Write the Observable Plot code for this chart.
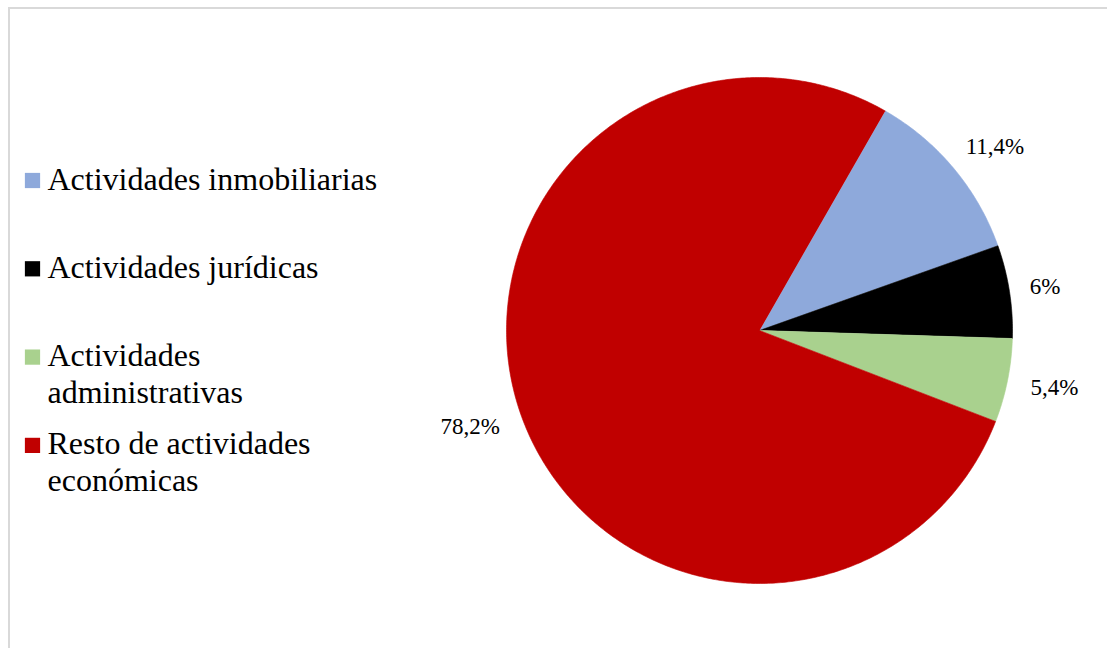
<!DOCTYPE html>
<html>
<head>
<meta charset="utf-8">
<script src="https://cdn.jsdelivr.net/npm/d3@7"></script>
<script src="https://cdn.jsdelivr.net/npm/@observablehq/plot@0.6"></script>
<style>
  html, body { margin: 0; padding: 0; background: #fff; }
  #wrap { position: relative; width: 1107px; height: 648px; overflow: hidden; }
  #frame { position: absolute; left: 8px; top: 7px; width: 1110px; height: 660px;
           border-left: 2px solid #d9d9d9; border-top: 2px solid #d9d9d9; box-sizing: border-box; }
  #chart { position: absolute; left: 0; top: 0; }
</style>
</head>
<body>
<div id="wrap"><div id="frame"></div><div id="chart"></div></div>
<script>
// Data
const categories = ["Actividades inmobiliarias", "Actividades jurídicas", "Actividades administrativas", "Resto de actividades económicas"];
const legendLabels = ["Actividades inmobiliarias", "Actividades jurídicas", "Actividades\nadministrativas", "Resto de actividades\neconómicas"];
const values = [11.4, 6, 5.4, 78.2];
const valueLabels = ["11,4%", "6%", "5,4%", "78,2%"];
const colors = ["#8EA9DB", "#000000", "#A9D18E", "#C00000"];

// Layout
const W = 1107, H = 648;
const cx = 759, cy = 330, R = 253;
const start = 29.8 * Math.PI / 180;
const serif = "Liberation Serif";

const arcs = d3.pie().sort(null).startAngle(start).endAngle(start + 2 * Math.PI)(values);

// slice outlines built from the pie angles
const slicePts = [];
arcs.forEach((a, i) => {
  slicePts.push({key: categories[i], x: cx, y: cy});
  const n = Math.max(8, Math.ceil((a.endAngle - a.startAngle) / 0.01));
  for (let k = 0; k <= n; k++) {
    const t = a.startAngle + (a.endAngle - a.startAngle) * k / n;
    slicePts.push({key: categories[i], x: cx + R * Math.sin(t), y: cy - R * Math.cos(t)});
  }
});

// data labels: box pushed outward from a point just outside the rim
const labelFs = 23;
const labels = arcs.map((a, i) => {
  const m = (a.startAngle + a.endAngle) / 2;
  const s = Math.sin(m), c = Math.cos(m);
  const hw = valueLabels[i].length * 0.26 * labelFs, hh = 0.4 * labelFs;
  const L = R + 24;
  return {text: valueLabels[i], x: cx + L * s + hw * s, y: cy - L * c - hh * c};
});

// legend
const legX = 32, legTextX = 47, legFirstBase = 190, legStep = 88.3, legFs = 32;
const legend = categories.map((c, i) => ({
  key: c, label: legendLabels[i],
  base: legFirstBase + i * legStep
}));

const plot = Plot.plot({
  width: W, height: H,
  margin: 0,
  x: {domain: [0, W], range: [0, W], axis: null},
  y: {domain: [0, H], range: [0, H], axis: null},
  color: {domain: categories, range: colors},
  style: {fontFamily: serif, background: "transparent"},
  marks: [
    Plot.line(slicePts, {x: "x", y: "y", z: "key", fill: "key", stroke: "key", strokeWidth: 0.6, curve: "linear"}),
    Plot.text(labels, {x: "x", y: "y", text: "text", fontSize: labelFs, fontFamily: serif, fill: "#000", textAnchor: "middle", lineAnchor: "middle"}),
    Plot.dot(legend, {x: () => legX, y: d => d.base - 10, symbol: "square", r: 8.6, fill: "key", stroke: null}),
    Plot.text(legend, {x: () => legTextX, y: d => d.base - 0.85 * legFs, text: "label", fontSize: legFs, fontFamily: serif, lineHeight: 37 / legFs, lineAnchor: "top", textAnchor: "start", fill: "#000"})
  ]
});
document.getElementById("chart").appendChild(plot);
</script>
</body>
</html>
